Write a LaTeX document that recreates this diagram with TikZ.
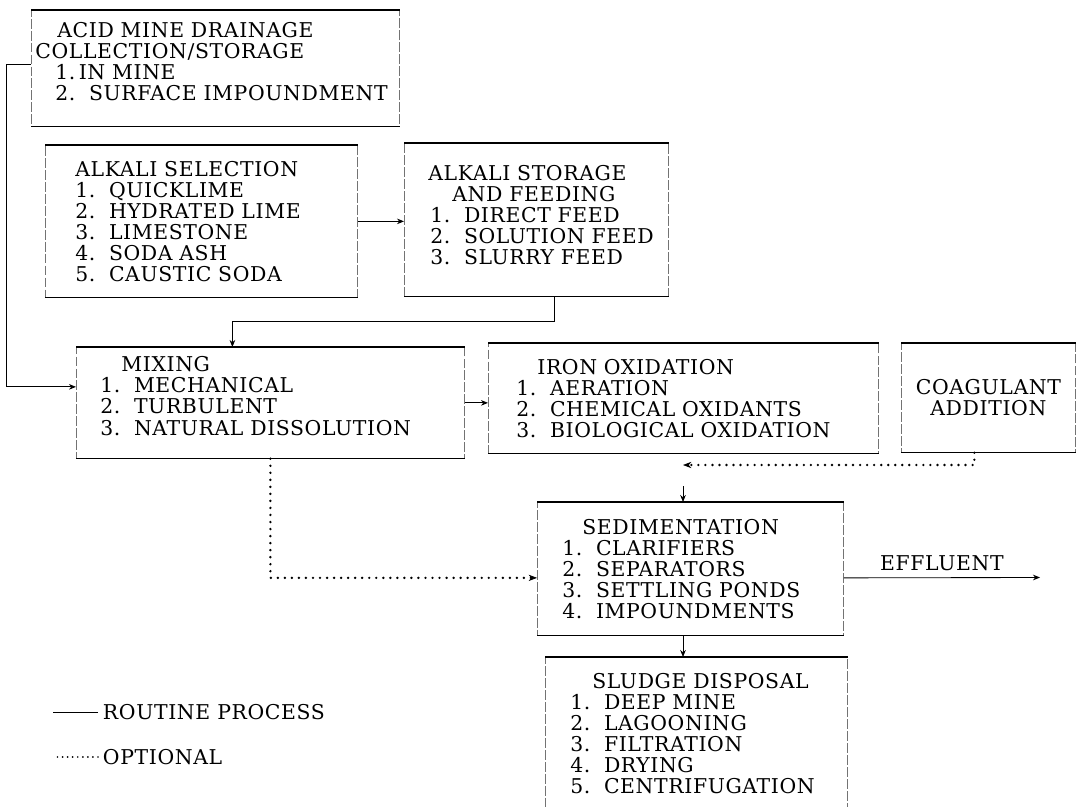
\documentclass[tikz,border=0pt]{standalone}
\usepackage{fontspec}
\setmainfont{DejaVu Serif}[LetterSpace=3]
\usepackage{tikz}
\usetikzlibrary{arrows.meta, positioning, calc}

\begin{document}
\begin{tikzpicture}[x=0.025cm, y=-0.025cm,
    font=\fontsize{14.5}{15}\selectfont,
    rim/.style={draw=black, solid, line width=0.8pt},
    stage/.style={draw=black!55, line width=0.5pt, dash pattern=on 7pt off 1.5pt,
      anchor=north west, inner sep=0pt, align=left,
      append after command={(\tikzlastnode.north west) edge[rim] (\tikzlastnode.north east)
                            (\tikzlastnode.south west) edge[rim] (\tikzlastnode.south east)}},
    routine/.style={line width=0.6pt, -{Stealth[length=5pt, width=4pt]}},
    optional/.style={line width=1.9pt, dash pattern=on 0pt off 5pt, line cap=round,
      -{Stealth[length=6pt, width=4.5pt, line width=0.5pt]}}]
  \useasboundingbox (0,0) rectangle (1078,807);

  % collection
  \node[stage, minimum width=9.2cm, minimum height=2.9cm, text width=9.2cm] (acid) at (31,10)
    {\hspace*{0.65cm}ACID MINE DRAINAGE\\ \hspace*{0.1cm}COLLECTION/STORAGE\\
     \hspace*{0.6cm}1.\,IN MINE\\ \hspace*{0.6cm}\mbox{2.\ \ SURFACE IMPOUNDMENT}\\[-5pt]\mbox{}};

  % alkali
  \node[stage, minimum width=7.8cm, minimum height=3.8cm, text width=7.8cm] (alksel) at (45,145)
    {\hspace*{0.75cm}ALKALI SELECTION\\ \hspace*{0.75cm}1.\ \ QUICKLIME\\
     \hspace*{0.75cm}2.\ \ HYDRATED LIME\\ \hspace*{0.75cm}3.\ \ LIMESTONE\\
     \hspace*{0.75cm}4.\ \ SODA ASH\\ \hspace*{0.75cm}5.\ \ CAUSTIC SODA};
  \node[stage, minimum width=6.6cm, minimum height=3.825cm, text width=6.6cm] (alkfeed) at (404,143)
    {\hspace*{0.6cm}ALKALI STORAGE\\ \hspace*{1.2cm}AND FEEDING\\
     \hspace*{0.65cm}1.\ \ DIRECT FEED\\ \hspace*{0.65cm}\mbox{2.\ \ SOLUTION FEED}\\
     \hspace*{0.65cm}3.\ \ SLURRY FEED\\[-8pt]\mbox{}};

  % treatment
  \node[stage, minimum width=9.7cm, minimum height=2.775cm, text width=9.7cm] (mixing) at (76,347)
    {\hspace*{1.125cm}MIXING\\ \hspace*{0.6cm}1.\ \ MECHANICAL\\
     \hspace*{0.6cm}2.\ \ TURBULENT\\ \hspace*{0.6cm}\mbox{3.\ \ NATURAL DISSOLUTION}\\[-5pt]\mbox{}};
  \node[stage, minimum width=9.75cm, minimum height=2.75cm, text width=9.75cm] (iron) at (488,343)
    {\hspace*{1.225cm}IRON OXIDATION\\ \hspace*{0.7cm}1.\ \ AERATION\\
     \hspace*{0.7cm}2.\ \ CHEMICAL OXIDANTS\\ \hspace*{0.7cm}\mbox{3.\ \ BIOLOGICAL OXIDATION}};
  \node[stage, align=center, minimum width=4.35cm, minimum height=2.725cm, text width=4.35cm] (coag) at (901,343)
    {COAGULANT\\ ADDITION};

  % settling and sludge
  \node[stage, minimum width=7.65cm, minimum height=3.325cm, text width=7.65cm] (sed) at (537,502)
    {\hspace*{1.125cm}SEDIMENTATION\\ \hspace*{0.625cm}1.\ \ CLARIFIERS\\
     \hspace*{0.625cm}2.\ \ SEPARATORS\\ \hspace*{0.625cm}3.\ \ SETTLING PONDS\\
     \hspace*{0.625cm}4.\ \ IMPOUNDMENTS};
  \node[stage, minimum width=7.55cm, minimum height=3.8cm, text width=7.55cm] (sludge) at (545,657)
    {\hspace*{1.175cm}SLUDGE DISPOSAL\\ \hspace*{0.625cm}1.\ \ DEEP MINE\\
     \hspace*{0.625cm}2.\ \ LAGOONING\\ \hspace*{0.625cm}3.\ \ FILTRATION\\
     \hspace*{0.625cm}4.\ \ DRYING\\ \hspace*{0.625cm}\mbox{5.\ \ CENTRIFUGATION}};

  % flow
  \draw[routine] ([yshift=0.1cm]acid.west) -- ++(-25,0) |- ([yshift=0.4cm]mixing.west);
  \draw[routine] (alksel.east) -- (alksel.east -| alkfeed.west);
  \draw[routine] ([xshift=0.45cm]alkfeed.south) -- ++(0,25) -| ([xshift=-0.95cm]mixing.north);
  \draw[routine] (mixing.east) -- (mixing.east -| iron.west);
  \coordinate (ironout) at (683,465);
  \coordinate (sedfeed) at (683,486);
  \draw[optional] ([xshift=-0.35cm]coag.south) |- (ironout);
  \draw[routine] (sedfeed) -- (sedfeed |- sed.north);
  \draw[optional] (mixing.south) |- ([yshift=-0.225cm]sed.west);
  \coordinate (outlet) at (1040,577.5);
  \draw[routine] ([yshift=-0.225cm]sed.east) -- (outlet) node[midway, above=1pt] (effl) {EFFLUENT};
  \draw[routine] (sed.south -| sedfeed) -- (sludge.north -| sedfeed);

  % key
  \node[anchor=west] (routinekey) at (98,712) {ROUTINE PROCESS};
  \node[anchor=west] (optionalkey) at (98,757) {OPTIONAL};
  \draw[line width=0.7pt] (routinekey.west) -- ++(-45,0);
  \draw[line width=1.4pt, dash pattern=on 0pt off 3.6pt, line cap=round] (optionalkey.west) -- ++(-45,0);
\end{tikzpicture}
\end{document}
